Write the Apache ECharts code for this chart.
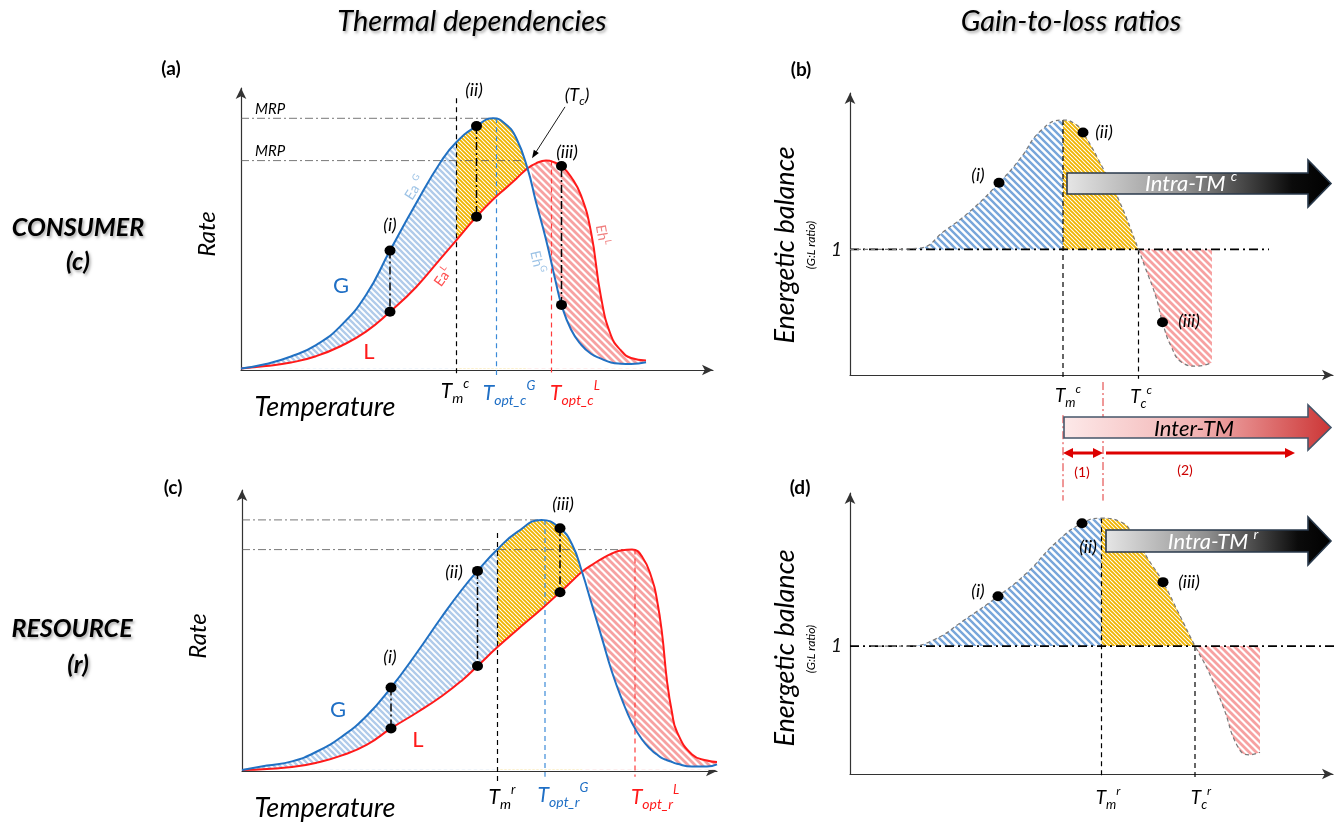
<!DOCTYPE html>
<html><head><meta charset="utf-8"><title>Thermal dependencies and gain-to-loss ratios</title>
<script src="https://cdn.jsdelivr.net/npm/echarts@6.0.0/dist/echarts.min.js"></script>
<style>html,body{margin:0;padding:0;background:#fff}#chart{width:1341px;height:823px}</style>
</head><body><div id="chart"></div>
<script>
// ================= DATA =================
// (a) CONSUMER thermal dependencies: temperature (arbitrary units) vs rate
const tempA = [0, 5, 10, 15, 20, 25, 29.8, 35, 40, 43.1, 47.1, 50.5, 53, 55, 57.3, 59, 61, 63, 64.1, 66, 68, 70, 72, 74, 76, 78, 81];
const gainA = [0.5, 2, 4.5, 8.3, 14.8, 25, 39.8, 55.5, 69.5, 76, 81.3, 83.9, 81.8, 77.5, 67.2, 56, 43.5, 29, 21.7, 13.5, 8.5, 5.4, 3.8, 2.5, 2.1, 2.0, 2.6];
const lossA = [0.5, 1.3, 2.5, 4.6, 8, 12.8, 19.4, 27.6, 37.3, 43.3, 51.1, 57, 60.7, 63.7, 67.2, 68.9, 69.8, 69, 68, 64.4, 58.2, 46, 24.3, 11.5, 6.5, 4, 3.2];
const dotTempA = [29.8, 47.1, 64.1];               // points (i), (ii), (iii)
const markTempA = [43.1, 51.1, 62.1, 57.3];         // Tm^c, Topt_c^G, Topt_c^L, crossing (Tc)

// (c) RESOURCE thermal dependencies
const tempC = [0, 5, 10, 15, 20, 25, 29.8, 35, 40, 44, 47.1, 51.1, 55, 59.9, 63.6, 66, 68, 70, 72, 74, 76, 78, 80, 82, 83, 84, 85, 86, 87, 90, 93, 95];
const gainC = [0.3, 1.8, 3.2, 6.5, 11.5, 18.5, 27.8, 39.5, 51.5, 60.5, 66.7, 73.9, 79.6, 83.7, 80.9, 75.6, 66.4, 55.3, 44.2, 33, 23.8, 16, 10.5, 6.8, 5.5, 4.3, 3.6, 3, 2.4, 1.5, 1.5, 2.2];
const lossC = [0.3, 0.7, 1.3, 2.8, 5.2, 8.8, 14.2, 19.5, 25, 30.2, 35, 41.3, 47, 54, 59.6, 63.3, 66.4, 68.7, 70.8, 72.5, 73.6, 73.8, 71.5, 64, 57, 46, 30, 19.5, 13, 5.5, 3.5, 3];
const dotTempC = [29.8, 47.1, 63.6];
const markTempC = [51.1, 60.6, 78.6, 68];           // Tm^r, Topt_r^G, Topt_r^L, crossing

// (b) CONSUMER energetic balance (G:L ratio)
const tempB = [0, 8, 13.8, 19, 24.2, 29.8, 33.8, 38.3, 42.6, 45, 46.6, 50.8, 53.8, 57.7, 59, 61.2, 62.5, 64.2, 66.4, 69.4, 72.4];
const ratioB = [1, 1, 1.01, 1.15, 1.31, 1.53, 1.71, 1.95, 2.03, 2.0, 1.93, 1.63, 1.39, 1.0, 0.86, 0.62, 0.42, 0.23, 0.1, 0.07, 0.1];
const dotTempB = [29.8, 46.6, 62.5];
const markTempB = [42.6, 57.7, 50.6];               // Tm^c, Tc^c, Tm^r (projected)

// (d) RESOURCE energetic balance (G:L ratio)
const tempD = [4.2, 11.6, 16.8, 22.7, 29.6, 35.3, 41.2, 46.4, 50.3, 54.2, 56.8, 59.8, 62.6, 65.7, 69, 71.6, 74.6, 77.6, 79.8, 82];
const ratioD = [1, 1, 1.05, 1.2, 1.39, 1.57, 1.81, 1.96, 2.0, 1.97, 1.86, 1.67, 1.5, 1.26, 1.0, 0.81, 0.53, 0.21, 0.15, 0.17];
const dotTempD = [29.6, 46.4, 62.6];
const markTempD = [50.3, 69];                       // Tm^r, Tc^r

// ================= STYLE =================
const FONT = 'Lato, "Open Sans", "DejaVu Sans", sans-serif';
const BLUE = '#2171c3', RED = '#ff1a1a', SM = 0.5;
const DASH = [5, 4], DASHDOT = [8, 3, 2, 3];

function stripe(color, period, width) {
  const c = document.createElement('canvas');
  c.width = c.height = period;
  const ctx = c.getContext('2d');
  ctx.fillStyle = '#fff'; ctx.fillRect(0, 0, period, period);
  ctx.strokeStyle = color; ctx.lineWidth = width; ctx.lineCap = 'square';
  ctx.beginPath();
  for (const k of [-1, 0, 1]) { ctx.moveTo(-2, -2 + k * period); ctx.lineTo(period + 2, period + 2 + k * period); }
  ctx.stroke();
  return { image: c, repeat: 'repeat' };
}
const patBlueA = stripe('#b0cbea', 6, 2.3);
const patYellow = stripe('#f0b400', 4, 1.9);
const patRed = stripe('#f7a1a1', 7, 2.8);
const patBlueB = stripe('#78a6da', 7, 2.4);

const zip = (xs, ys) => xs.map((x, i) => [x, ys[i]]);
const at = (xs, ys, t) => ys[xs.indexOf(t)];
const maxOf = a => Math.max.apply(null, a);
const argMaxT = (xs, ys) => xs[ys.indexOf(maxOf(ys))];
const inRange = (from, to) => p => p[0] >= from && p[0] <= to;

function line(grid, data, style, extra) {
  return Object.assign({ type: 'line', xAxisIndex: grid, yAxisIndex: grid, data, symbol: 'none',
    silent: true, clip: false, animation: false, lineStyle: style, z: 3 }, extra || {});
}
// hatched bands between G and L: hatch under the upper curve of each region, then one white fill under the lower envelope
function bands(grid, temps, gain, loss, tm, cross) {
  const lower = temps.map((t, i) => Math.min(gain[i], loss[i]));
  const area = (data, color, z) => line(grid, data, { opacity: 0 }, { smooth: SM, z, areaStyle: { color, opacity: 1, origin: 0.4 } });
  return [
    area(zip(temps, gain).filter(inRange(0, tm)), patBlueA, 1),
    area(zip(temps, gain).filter(inRange(tm, cross)), patYellow, 1),
    area(zip(temps, loss).filter(inRange(cross, 1e9)), patRed, 1),
    area(zip(temps, lower), '#ffffff', 2)
  ];
}
function ratioBand(grid, temps, vals, from, to, pat) {
  return line(grid, zip(temps, vals).filter(inRange(from, to)), { opacity: 0 }, { smooth: SM, z: 1, areaStyle: { color: pat, opacity: 1, origin: 1 } });
}
function dots(grid, data) {
  return { type: 'scatter', xAxisIndex: grid, yAxisIndex: grid, data, symbol: 'circle', symbolSize: [11, 10],
    itemStyle: { color: '#000', opacity: 1 }, silent: true, animation: false, z: 6 };
}

const series = [];
// ---------- (a) ----------
{
  const [tm, tg, tl, cross] = markTempA, gMax = maxOf(gainA), lMax = maxOf(lossA);
  series.push(...bands(0, tempA, gainA, lossA, tm, cross));
  series.push(line(0, [[0, gMax], [argMaxT(tempA, gainA), gMax]], { color: '#555', width: 0.8, type: DASHDOT }));
  series.push(line(0, [[0, lMax], [cross, lMax]], { color: '#555', width: 0.8, type: DASHDOT }));
  series.push(line(0, [[tm, 90.6], [tm, -1.7]], { color: '#000', width: 1.2, type: DASH }));
  series.push(line(0, [[tg, gMax], [tg, -1.7]], { color: '#3b8ad8', width: 1.2, type: DASH }));
  series.push(line(0, [[tl, lMax], [tl, -1.7]], { color: '#ff3b3b', width: 1.2, type: DASH }));
  series.push(line(0, zip(tempA, lossA), { color: RED, width: 2 }, { smooth: SM, z: 4 }));
  series.push(line(0, zip(tempA, gainA), { color: BLUE, width: 2 }, { smooth: SM, z: 4 }));
  dotTempA.forEach(t => series.push(line(0, [[t, at(tempA, gainA, t)], [t, at(tempA, lossA, t)]], { color: '#000', width: 1.5, type: DASHDOT }, { z: 5 })));
  series.push(dots(0, dotTempA.flatMap(t => [[t, at(tempA, gainA, t)], [t, at(tempA, lossA, t)]])));
}
// ---------- (c) ----------
{
  const [tm, tg, tl, cross] = markTempC, gMax = maxOf(gainC), lMax = maxOf(lossC);
  series.push(...bands(2, tempC, gainC, lossC, tm, cross));
  series.push(line(2, [[0, gMax], [argMaxT(tempC, gainC), gMax]], { color: '#555', width: 0.8, type: DASHDOT }));
  series.push(line(2, [[0, lMax], [argMaxT(tempC, lossC), lMax]], { color: '#555', width: 0.8, type: DASHDOT }));
  series.push(line(2, [[tm, 79.3], [tm, -3.6]], { color: '#000', width: 1.2, type: DASH }));
  series.push(line(2, [[tg, gMax], [tg, -1.9]], { color: '#3b8ad8', width: 1.2, type: DASH }));
  series.push(line(2, [[tl, lMax], [tl, -1.9]], { color: '#ff3b3b', width: 1.2, type: DASH }));
  series.push(line(2, zip(tempC, lossC), { color: RED, width: 2 }, { smooth: SM, z: 4 }));
  series.push(line(2, zip(tempC, gainC), { color: BLUE, width: 2 }, { smooth: SM, z: 4 }));
  dotTempC.forEach(t => series.push(line(2, [[t, at(tempC, gainC, t)], [t, at(tempC, lossC, t)]], { color: '#000', width: 1.5, type: DASHDOT }, { z: 5 })));
  series.push(dots(2, dotTempC.flatMap(t => [[t, at(tempC, gainC, t)], [t, at(tempC, lossC, t)]])));
}
// ---------- (b) ----------
{
  const [tm, tc, tmr] = markTempB;
  series.push(ratioBand(1, tempB, ratioB, 0, tm, patBlueB));
  series.push(ratioBand(1, tempB, ratioB, tm, tc, patYellow));
  series.push(ratioBand(1, tempB, ratioB, tc, 1e9, patRed));
  series.push(line(1, zip(tempB, ratioB), { color: '#7a7a7a', width: 1.2, type: [4, 3] }, { smooth: SM, z: 4 }));
  series.push(line(1, [[0, 1], [83.8, 1]], { color: '#000', width: 1.8, type: [9, 4, 2, 4] }));
  series.push(line(1, [[tm, at(tempB, ratioB, tm)], [tm, -0.03]], { color: '#000', width: 1.2, type: DASH }));
  series.push(line(1, [[tc, 1], [tc, -0.03]], { color: '#000', width: 1.2, type: DASH }));
  series.push(line(1, [[tm, -0.32], [tm, -1.0]], { color: '#e03030', width: 1, type: DASHDOT }));
  series.push(line(1, [[tmr, -0.056], [tmr, -1.0]], { color: '#e03030', width: 1, type: DASHDOT }));
  series.push(dots(1, dotTempB.map(t => [t, at(tempB, ratioB, t)])));
}
// ---------- (d) ----------
{
  const [tm, tc] = markTempD;
  series.push(ratioBand(3, tempD, ratioD, 0, tm, patBlueB));
  series.push(ratioBand(3, tempD, ratioD, tm, tc, patYellow));
  series.push(ratioBand(3, tempD, ratioD, tc, 1e9, patRed));
  series.push(line(3, zip(tempD, ratioD), { color: '#7a7a7a', width: 1.2, type: [4, 3] }, { smooth: SM, z: 4 }));
  series.push(line(3, [[0, 1], [97.6, 1]], { color: '#000', width: 1.8, type: [9, 4, 2, 4] }));
  series.push(line(3, [[tm, at(tempD, ratioD, tm)], [tm, -0.025]], { color: '#000', width: 1.2, type: DASH }));
  series.push(line(3, [[tc, 1], [tc, -0.025]], { color: '#000', width: 1.2, type: DASH }));
  series.push(dots(3, dotTempD.map(t => [t, at(tempD, ratioD, t)])));
}

// ================= AXES =================
function xAx(i, max) {
  return { gridIndex: i, type: 'value', min: 0, max,
    axisLine: { show: true, onZero: false, symbol: ['none', 'arrow'], symbolSize: [8, 11], lineStyle: { color: '#333', width: 1.2 } },
    axisTick: { show: false }, axisLabel: { show: false }, splitLine: { show: false } };
}
function yAx(i, max, ratio) {
  const ax = xAx(i, max);
  if (ratio) {
    ax.interval = 1;
    ax.axisLabel = { show: true, formatter: v => (v === 1 ? '1' : ''), fontSize: 19, fontStyle: 'italic', fontFamily: FONT, color: '#111', margin: 8 };
  }
  return ax;
}

// ================= TEXT =================
function T(x, y, text, o) {
  o = o || {};
  const st = { text, fill: o.color || '#000', fontSize: o.size || 16, fontFamily: FONT,
    fontStyle: o.italic === false ? 'normal' : 'italic', fontWeight: o.bold ? 'bold' : 'normal',
    align: 'center', verticalAlign: 'middle', textAlign: 'center', textVerticalAlign: 'middle' };
  if (o.rich) st.rich = o.rich;
  if (o.shadow) { st.textShadowColor = 'rgba(0,0,0,0.35)'; st.textShadowBlur = 3; st.textShadowOffsetX = 1.5; st.textShadowOffsetY = 1.5; }
  return { type: 'text', x, y, rotation: o.rot || 0, z: 100, silent: true, style: st };
}
function rich(size, color, italic) {
  const base = { fontFamily: FONT, fontStyle: italic === false ? 'normal' : 'italic', fill: color, color };
  return {
    b: Object.assign({ fontSize: size, lineHeight: Math.round(size * 1.35) }, base),
    sub: Object.assign({ fontSize: Math.round(size * 0.68), verticalAlign: 'bottom' }, base),
    sup: Object.assign({ fontSize: Math.round(size * 0.62), verticalAlign: 'top' }, base)
  };
}
const R = (x, y, str, size, color, o) => T(x, y, str, Object.assign({ size, color, rich: rich(size, color, o && o.italic) }, o || {}));

const graphics = [
  T(472, 22, 'Thermal dependencies', { size: 29, shadow: true }),
  T(1071, 22, 'Gain-to-loss ratios', { size: 29, shadow: true }),
  T(78, 228, 'CONSUMER', { size: 25, bold: true, shadow: true }),
  T(78, 262, '(c)', { size: 25, bold: true, shadow: true }),
  T(72, 629, 'RESOURCE', { size: 25, bold: true, shadow: true }),
  T(78, 665, '(r)', { size: 25, bold: true, shadow: true }),
  T(171, 69, '(a)', { size: 19, bold: true, italic: false }),
  T(801, 70, '(b)', { size: 19, bold: true, italic: false }),
  T(173, 488, '(c)', { size: 19, bold: true, italic: false }),
  T(800, 488, '(d)', { size: 19, bold: true, italic: false }),
  T(207, 234, 'Rate', { size: 24, rot: Math.PI / 2 }),
  T(198, 636, 'Rate', { size: 24, rot: Math.PI / 2 }),
  T(325, 407, 'Temperature', { size: 27 }),
  T(325, 808, 'Temperature', { size: 27 }),
  T(785, 245, 'Energetic balance', { size: 27, rot: Math.PI / 2 }),
  T(811, 245, '(G:L ratio)', { size: 12, rot: Math.PI / 2 }),
  T(785, 648, 'Energetic balance', { size: 27, rot: Math.PI / 2 }),
  T(811, 649, '(G:L ratio)', { size: 12, rot: Math.PI / 2 }),
  // (a) annotations
  T(270, 109, 'MRP', { size: 15 }), T(270, 151, 'MRP', { size: 15 }),
  T(474, 90, '(ii)', { size: 18 }),
  R(577, 95, '{b|(T}{sub|c}{b|)}', 18, '#000'),
  T(567, 152, '(iii)', { size: 18 }),
  T(390, 225, '(i)', { size: 18 }),
  T(341, 286, 'G', { size: 22, italic: false, color: '#1f6fc5' }),
  T(369, 352, 'L', { size: 22, italic: false, color: RED }),
  R(415, 188, '{b|Ea }{sup|G}', 14, '#9dc3e6', { italic: false, rot: 1.0 }),
  R(443, 277, '{b|Ea}{sup|L}', 14, '#ff4d4d', { italic: false, rot: 0.95 }),
  R(537, 262, '{b|Eh}{sup|G}', 14, '#9dc3e6', { italic: false, rot: -1.35 }),
  R(602, 235, '{b|Eh}{sup|L}', 14, '#f07f7f', { italic: false, rot: -1.4 }),
  R(455, 391, '{b|T}{sub|m}{sup|c}', 21, '#000'),
  R(509, 393, '{b|T}{sub|opt_c}{sup|G}', 21, '#1f6fc5'),
  R(575, 393, '{b|T}{sub|opt_c}{sup|L}', 21, RED),
  // (c) annotations
  T(563, 504, '(iii)', { size: 18 }),
  T(454, 572, '(ii)', { size: 18 }),
  T(390, 657, '(i)', { size: 18 }),
  T(338, 710, 'G', { size: 22, italic: false, color: '#1f6fc5' }),
  T(418, 740, 'L', { size: 22, italic: false, color: RED }),
  R(502, 797, '{b|T}{sub|m}{sup|r}', 21, '#000'),
  R(563, 795, '{b|T}{sub|opt_r}{sup|G}', 21, '#1f6fc5'),
  R(655, 797, '{b|T}{sub|opt_r}{sup|L}', 21, RED),
  // (b) annotations
  T(978, 175, '(i)', { size: 18 }),
  T(1104, 132, '(ii)', { size: 18 }),
  T(1189, 321, '(iii)', { size: 18 }),
  R(1068, 396, '{b|T}{sub|m}{sup|c}', 19, '#000'),
  R(1141, 397, '{b|T}{sub|c}{sup|c}', 19, '#000'),
  T(1082, 472, '(1)', { size: 14, italic: false, color: '#cc0000' }),
  T(1185, 470, '(2)', { size: 14, italic: false, color: '#cc0000' }),
  // (d) annotations
  T(978, 591, '(i)', { size: 18 }),
  T(1088, 547, '(ii)', { size: 18 }),
  T(1189, 582, '(iii)', { size: 18 }),
  R(1108, 798, '{b|T}{sub|m}{sup|r}', 19, '#000'),
  R(1201, 798, '{b|T}{sub|c}{sup|r}', 19, '#000'),
];
function bigArrow(x0, yTop, yBot, headTop, headBot, xHead, xTip, stops, stroke) {
  const mid = (headTop + headBot) / 2;
  return { type: 'polygon', z: 50, silent: true,
    shape: { points: [[x0, yTop], [xHead, yTop], [xHead, headTop], [xTip, mid], [xHead, headBot], [xHead, yBot], [x0, yBot]] },
    style: { fill: { type: 'linear', x: 0, y: 0, x2: 1, y2: 0, colorStops: stops }, stroke, lineWidth: 1.6 } };
}
const grayStops = [{ offset: 0, color: '#e6e6e6' }, { offset: 0.45, color: '#8f8f8f' }, { offset: 0.85, color: '#0b0b0b' }, { offset: 1, color: '#000' }];
const redStops = [{ offset: 0, color: '#fde9e9' }, { offset: 0.5, color: '#f2b3b3' }, { offset: 1, color: '#cc3535' }];
graphics.push(bigArrow(1067, 173, 194, 160, 207, 1308, 1331, grayStops, '#2a3a4c'));
graphics.push(bigArrow(1064, 417, 438, 405, 450, 1308, 1331, redStops, '#46566a'));
graphics.push(bigArrow(1106, 530, 552, 517, 565, 1308, 1331, grayStops, '#2a3a4c'));
graphics.push(R(1191, 184, '{b|Intra-TM }{sup|c}', 22, '#ffffff'));
graphics.push(R(1194, 429, '{b|Inter-TM}', 22, '#000'));
graphics.push(R(1213, 542, '{b|Intra-TM }{sup|r}', 22, '#ffffff'));

// ================= CHART =================
const chart = echarts.init(document.getElementById('chart'), null, { renderer: 'canvas' });
chart.setOption({
  animation: false,
  backgroundColor: '#ffffff',
  grid: [
    { left: 241, top: 88, width: 472, height: 282, outerBoundsMode: 'none' },
    { left: 850, top: 93, width: 483, height: 282, outerBoundsMode: 'none' },
    { left: 242, top: 490, width: 475, height: 281, outerBoundsMode: 'none' },
    { left: 850, top: 493, width: 483, height: 281, outerBoundsMode: 'none' }
  ],
  xAxis: [xAx(0, 94.4), xAx(1, 96.6), xAx(2, 95), xAx(3, 96.6)],
  yAxis: [yAx(0, 94), yAx(1, 2.245, true), yAx(2, 93.667), yAx(3, 2.197, true)],
  series
});

// arrows positioned through the grids' own scales
function arrowEls(g, v1, v2, headStart, headEnd, color, w, hl, hw) {
  const a = chart.convertToPixel({ gridIndex: g }, v1), b = chart.convertToPixel({ gridIndex: g }, v2);
  const dx = b[0] - a[0], dy = b[1] - a[1], len = Math.hypot(dx, dy), ux = dx / len, uy = dy / len, nx = -uy, ny = ux;
  const s = headStart ? [a[0] + ux * hl * 0.8, a[1] + uy * hl * 0.8] : a;
  const e = headEnd ? [b[0] - ux * hl * 0.8, b[1] - uy * hl * 0.8] : b;
  const els = [{ type: 'line', z: 60, silent: true, shape: { x1: s[0], y1: s[1], x2: e[0], y2: e[1] }, style: { stroke: color, lineWidth: w } }];
  const head = (tip, dir) => ({ type: 'polygon', z: 60, silent: true, style: { fill: color },
    shape: { points: [tip, [tip[0] - dir * ux * hl + nx * hw / 2, tip[1] - dir * uy * hl + ny * hw / 2], [tip[0] - dir * ux * hl - nx * hw / 2, tip[1] - dir * uy * hl - ny * hw / 2]] } });
  if (headEnd) els.push(head(b, 1));
  if (headStart) els.push(head(a, -1));
  return els;
}
const [tmB, , tmBr] = markTempB;
graphics.push(...arrowEls(1, [tmB, -0.621], [tmBr, -0.621], true, true, '#dd0000', 3, 10, 10));
graphics.push(...arrowEls(1, [tmBr + 0.6, -0.621], [89, -0.621], false, true, '#dd0000', 3, 10, 10));
graphics.push(...arrowEls(0, [64.8, 87.7], [58.2, 70.6], false, true, '#000', 0.9, 8, 6));
chart.setOption({ graphic: { elements: graphics } });
</script></body></html>
